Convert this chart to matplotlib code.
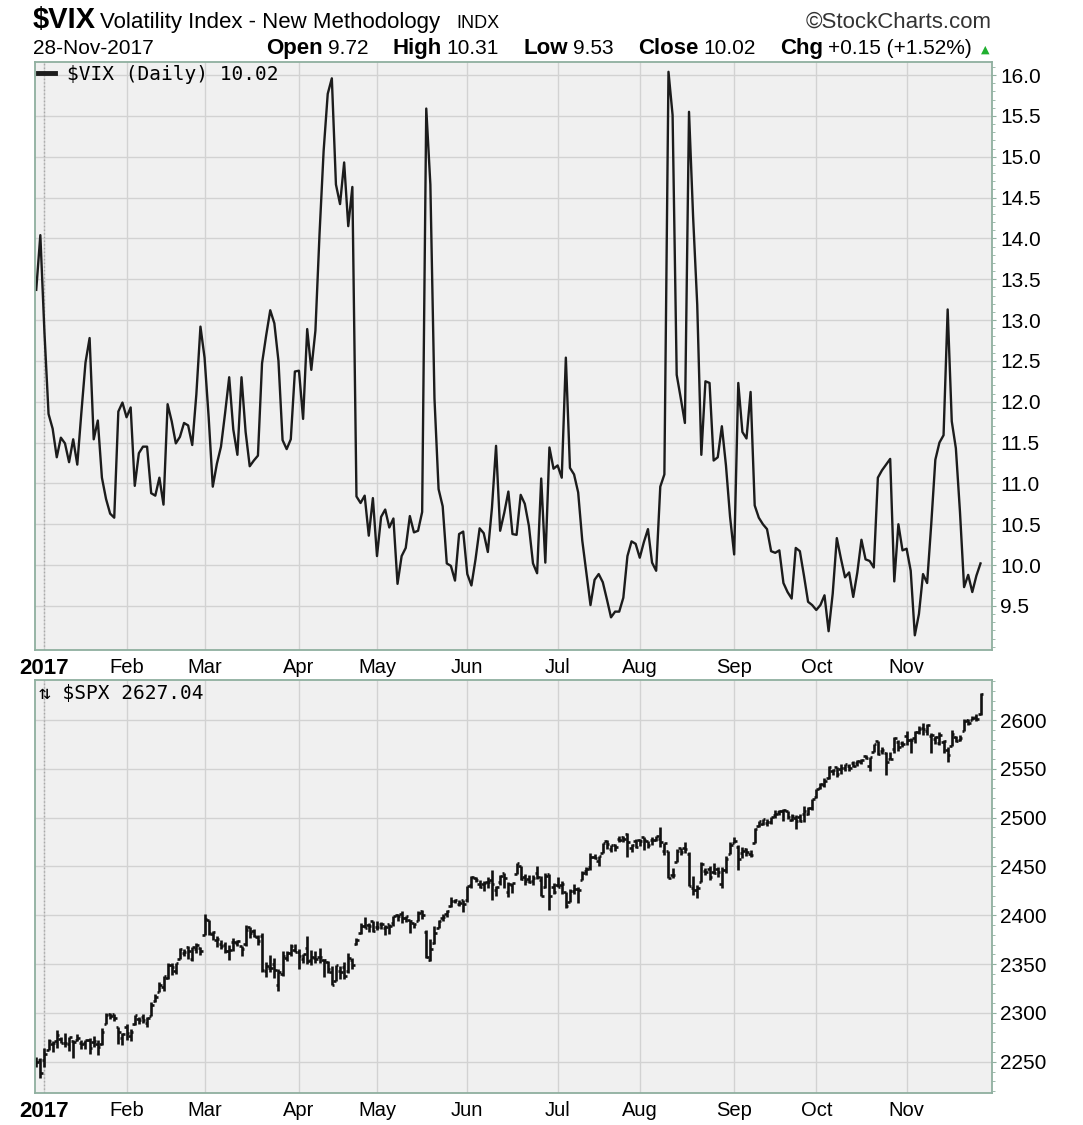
import numpy as np
import pandas as pd
import matplotlib
matplotlib.use('Agg')
import matplotlib.pyplot as plt
from matplotlib.ticker import MultipleLocator

# trading days shown: 29-Dec-2016 .. 28-Nov-2017
holidays = ['2017-01-02', '2017-01-16', '2017-02-20', '2017-04-14', '2017-05-29',
            '2017-07-04', '2017-09-04', '2017-11-23']
month_labels = ['2017', 'Feb', 'Mar', 'Apr', 'May', 'Jun', 'Jul', 'Aug', 'Sep', 'Oct', 'Nov']

vix_close = [
    13.37, 14.04,
    # Jan
    12.85, 11.85, 11.67, 11.32, 11.56, 11.49, 11.26, 11.54, 11.23, 11.87, 12.48, 12.78, 11.54, 11.77,
    11.07, 10.81, 10.63, 10.58, 11.88, 11.99,
    # Feb
    11.81, 11.93, 10.97, 11.37, 11.45, 11.45, 10.88, 10.85, 11.07, 10.74, 11.97, 11.76, 11.49, 11.57,
    11.74, 11.71, 11.47, 12.09, 12.92,
    # Mar
    12.54, 11.81, 10.96, 11.24, 11.45, 11.86, 12.30, 11.66, 11.35, 12.30, 11.63, 11.21, 11.28, 11.34,
    12.47, 12.81, 13.12, 12.96, 12.50, 11.53, 11.42, 11.54, 12.37,
    # Apr
    12.38, 11.79, 12.89, 12.39, 12.87, 14.05, 15.07, 15.77, 15.96, 14.66, 14.42, 14.93, 14.15, 14.63,
    10.84, 10.76, 10.85, 10.36, 10.82,
    # May
    10.11, 10.59, 10.68, 10.46, 10.57, 9.77, 10.11, 10.21, 10.60, 10.40, 10.42, 10.65, 15.59, 14.66,
    12.04, 10.93, 10.72, 10.02, 9.99, 9.81, 10.38, 10.41,
    # Jun
    9.89, 9.75, 10.07, 10.45, 10.39, 10.16, 10.70, 11.46, 10.42, 10.64, 10.90, 10.38, 10.37, 10.86,
    10.75, 10.48, 10.02, 9.90, 11.06, 10.03, 11.44, 11.18,
    # Jul
    11.22, 11.07, 12.54, 11.19, 11.11, 10.89, 10.30, 9.90, 9.51, 9.82, 9.89, 9.79, 9.58, 9.36,
    9.43, 9.43, 9.60, 10.11, 10.29, 10.26,
    # Aug
    10.09, 10.28, 10.44, 10.03, 9.93, 10.96, 11.11, 16.04, 15.51, 12.33, 12.04, 11.74, 15.55, 14.26,
    13.19, 11.35, 12.25, 12.23, 11.28, 11.32, 11.70, 11.22, 10.59,
    # Sep
    10.13, 12.23, 11.63, 11.55, 12.12, 10.73, 10.58, 10.50, 10.44, 10.17, 10.15, 10.18, 9.78, 9.67,
    9.59, 10.21, 10.17, 9.87, 9.55, 9.51,
    # Oct
    9.45, 9.51, 9.63, 9.19, 9.65, 10.33, 10.08, 9.85, 9.91, 9.61, 9.91, 10.31, 10.07, 10.05,
    9.97, 11.07, 11.16, 11.23, 11.30, 9.80, 10.50, 10.18,
    # Nov
    10.20, 9.93, 9.14, 9.40, 9.89, 9.78, 10.50, 11.29, 11.50, 11.59, 13.13, 11.76, 11.43, 10.65,
    9.73, 9.88, 9.67, 9.87, 10.02,
]

spx_open = [
    2249.5, 2251.6,
    2251.6, 2261.6, 2268.2, 2271.1, 2273.6, 2269.0, 2268.6, 2271.1, 2272.7, 2269.1, 2269.1, 2271.9, 2269.9, 2267.8, 2267.9, 2288.9, 2298.6, 2299.0, 2286.0, 2274.0,
    2285.6, 2276.7, 2288.5, 2294.3, 2295.9, 2289.6, 2296.7, 2312.3, 2321.7, 2326.1, 2335.6, 2349.6, 2343.0, 2354.9, 2361.1, 2367.5, 2355.7, 2365.2, 2366.1,
    2380.1, 2394.8, 2380.9, 2375.2, 2370.7, 2369.8, 2363.5, 2372.5, 2371.6, 2368.6, 2370.3, 2387.7, 2383.7, 2378.2, 2379.3, 2343.0, 2346.0, 2350.4, 2329.1, 2339.8, 2356.5, 2361.3, 2364.8,
    2362.3, 2354.8, 2366.6, 2353.8, 2356.6, 2357.2, 2353.9, 2352.2, 2342.0, 2332.6, 2342.5, 2346.8, 2342.7, 2354.7, 2370.3, 2381.5, 2389.0, 2389.7, 2393.7,
    2388.5, 2391.1, 2386.5, 2391.4, 2392.4, 2399.9, 2401.6, 2396.8, 2394.8, 2392.4, 2394.0, 2404.6, 2383.0, 2354.7, 2371.4, 2387.2, 2397.0, 2401.4, 2409.5, 2414.5, 2411.7, 2415.6,
    2415.7, 2431.3, 2437.8, 2431.9, 2432.0, 2434.3, 2436.4, 2425.9, 2434.2, 2443.8, 2424.1, 2431.2, 2442.6, 2450.7, 2439.3, 2437.4, 2434.7, 2443.3, 2436.3, 2428.7, 2442.4, 2429.2,
    2431.4, 2430.8, 2423.4, 2413.5, 2424.5, 2427.4, 2435.8, 2445.0, 2449.2, 2459.5, 2455.9, 2463.9, 2475.6, 2467.4, 2472.0, 2477.9, 2480.0, 2482.8, 2469.1, 2475.9,
    2477.1, 2480.4, 2476.0, 2476.9, 2477.1, 2478.4, 2465.4, 2465.4, 2441.0, 2455.0, 2468.7, 2468.6, 2463.0, 2427.6, 2425.5, 2433.8, 2444.9, 2447.9, 2444.7, 2447.4, 2431.9, 2446.1, 2462.7,
    2474.4, 2470.4, 2463.8, 2468.1, 2462.3, 2474.5, 2491.9, 2493.9, 2494.6, 2495.7, 2502.5, 2506.3, 2506.8, 2507.2, 2497.3, 2499.4, 2501.0, 2503.3, 2503.4, 2510.4,
    2521.2, 2530.3, 2533.5, 2540.9, 2547.4, 2551.4, 2550.0, 2550.6, 2552.9, 2555.7, 2555.6, 2557.2, 2562.9, 2553.4, 2567.6, 2578.1, 2568.7, 2566.5, 2560.1, 2570.3, 2577.8, 2576.0,
    2583.2, 2579.5, 2581.9, 2587.5, 2592.1, 2588.7, 2584.0, 2580.2, 2576.5, 2577.8, 2569.5, 2573.0, 2582.9, 2579.5, 2589.2, 2600.3, 2600.4, 2602.7, 2605.9,
]

spx_high = [
    2254.5, 2253.6,
    2263.9, 2272.8, 2271.5, 2282.1, 2275.5, 2279.3, 2275.5, 2271.8, 2278.7, 2272.1, 2272.0, 2274.3, 2276.0, 2271.8, 2284.6, 2299.6, 2300.4, 2299.0, 2286.0, 2279.1,
    2289.1, 2284.0, 2298.3, 2296.2, 2299.4, 2295.9, 2311.1, 2319.2, 2331.6, 2337.6, 2351.3, 2351.3, 2351.2, 2366.7, 2365.1, 2368.3, 2367.3, 2371.5, 2367.8,
    2401.0, 2394.8, 2383.9, 2378.8, 2375.1, 2373.1, 2369.1, 2376.9, 2374.4, 2368.6, 2390.0, 2388.1, 2385.7, 2379.6, 2381.9, 2351.8, 2358.9, 2356.2, 2344.9, 2363.8, 2363.4, 2370.4, 2370.4,
    2365.9, 2360.5, 2378.4, 2364.2, 2363.8, 2366.4, 2355.2, 2352.7, 2348.3, 2349.1, 2348.4, 2352.6, 2361.4, 2356.2, 2377.0, 2392.5, 2398.2, 2392.1, 2393.7,
    2394.5, 2392.9, 2389.8, 2391.4, 2399.3, 2401.4, 2403.9, 2399.7, 2395.7, 2392.4, 2404.1, 2405.8, 2384.9, 2375.7, 2389.1, 2395.5, 2400.9, 2405.6, 2418.7, 2416.7, 2415.3, 2416.0,
    2430.1, 2440.2, 2439.6, 2436.2, 2435.3, 2439.3, 2446.2, 2430.4, 2441.5, 2443.8, 2434.0, 2433.2, 2453.8, 2450.7, 2442.2, 2441.6, 2441.4, 2450.4, 2440.2, 2443.0, 2442.7, 2432.7,
    2439.2, 2434.9, 2424.3, 2426.9, 2432.0, 2429.3, 2445.8, 2449.3, 2463.5, 2462.8, 2460.9, 2473.8, 2477.6, 2472.5, 2473.1, 2481.2, 2481.7, 2484.0, 2473.5, 2478.0,
    2478.5, 2480.4, 2476.0, 2480.0, 2481.0, 2490.9, 2474.4, 2465.4, 2448.1, 2468.2, 2468.9, 2474.9, 2465.0, 2440.3, 2430.6, 2454.8, 2448.9, 2450.4, 2454.0, 2449.1, 2449.2, 2460.3, 2475.0,
    2480.4, 2472.0, 2469.6, 2468.6, 2467.1, 2489.0, 2496.8, 2498.4, 2498.4, 2500.2, 2508.3, 2507.8, 2508.9, 2507.2, 2503.5, 2502.5, 2503.5, 2511.8, 2510.8, 2519.4,
    2529.2, 2535.1, 2540.5, 2552.5, 2549.4, 2551.8, 2555.2, 2555.2, 2555.3, 2557.7, 2559.5, 2559.7, 2564.1, 2562.4, 2575.4, 2578.3, 2572.2, 2567.4, 2567.1, 2583.0, 2580.0, 2578.3,
    2588.4, 2581.1, 2588.4, 2593.4, 2597.0, 2595.5, 2586.5, 2583.8, 2587.7, 2579.7, 2572.8, 2590.1, 2584.0, 2584.6, 2601.2, 2600.9, 2604.2, 2606.4, 2627.7,
]

spx_low = [
    2244.6, 2233.6,
    2245.1, 2261.6, 2260.5, 2264.1, 2268.8, 2265.3, 2260.8, 2254.3, 2271.5, 2262.8, 2263.4, 2258.4, 2265.0, 2257.0, 2266.7, 2288.9, 2294.1, 2291.6, 2268.0, 2267.2,
    2272.4, 2271.7, 2287.9, 2288.6, 2290.2, 2285.4, 2296.6, 2311.1, 2321.4, 2322.2, 2334.8, 2338.9, 2339.6, 2354.9, 2358.3, 2355.1, 2352.9, 2361.9, 2359.0,
    2380.1, 2380.2, 2374.4, 2368.0, 2365.5, 2361.0, 2354.5, 2363.0, 2368.5, 2358.2, 2368.9, 2377.2, 2377.6, 2369.7, 2341.9, 2336.5, 2342.1, 2335.7, 2322.3, 2337.6, 2352.9, 2358.6, 2362.6,
    2344.7, 2350.7, 2350.5, 2348.9, 2350.7, 2351.5, 2337.3, 2341.2, 2329.0, 2332.5, 2334.5, 2335.1, 2340.9, 2344.5, 2369.2, 2381.2, 2386.8, 2382.7, 2382.4,
    2384.8, 2385.8, 2379.8, 2380.4, 2389.4, 2393.9, 2392.4, 2392.8, 2381.7, 2387.2, 2393.9, 2396.1, 2356.2, 2352.7, 2370.4, 2386.9, 2393.9, 2398.0, 2408.8, 2412.2, 2409.4, 2403.6,
    2413.5, 2427.7, 2434.3, 2428.1, 2424.8, 2427.9, 2415.7, 2420.0, 2431.3, 2428.3, 2418.5, 2422.9, 2441.8, 2436.6, 2430.7, 2433.3, 2431.1, 2437.0, 2419.4, 2428.0, 2405.7, 2421.7,
    2428.7, 2422.1, 2407.7, 2413.5, 2422.3, 2412.8, 2435.8, 2441.7, 2446.7, 2457.2, 2450.3, 2463.9, 2468.4, 2465.1, 2466.3, 2474.9, 2474.9, 2459.9, 2464.7, 2468.5,
    2471.1, 2466.5, 2468.9, 2472.1, 2475.9, 2470.3, 2462.1, 2437.8, 2437.9, 2455.0, 2461.6, 2463.9, 2430.0, 2420.7, 2417.4, 2433.7, 2441.4, 2436.2, 2442.2, 2439.0, 2428.2, 2443.8, 2462.7,
    2473.9, 2446.6, 2459.2, 2460.3, 2459.4, 2474.5, 2490.4, 2492.1, 2491.4, 2493.2, 2499.9, 2503.2, 2496.7, 2499.0, 2496.5, 2488.0, 2495.1, 2495.9, 2502.9, 2508.0,
    2520.4, 2528.9, 2531.8, 2540.0, 2543.8, 2541.6, 2544.9, 2548.0, 2548.3, 2552.1, 2552.6, 2554.7, 2559.7, 2547.9, 2567.6, 2564.3, 2565.6, 2544.0, 2559.8, 2565.9, 2568.3, 2572.2,
    2574.9, 2566.2, 2576.8, 2585.7, 2584.4, 2585.0, 2566.3, 2575.6, 2574.5, 2566.6, 2557.5, 2573.0, 2577.6, 2578.2, 2589.2, 2595.2, 2600.4, 2598.9, 2605.4,
]

spx_close = [
    2249.3, 2238.8,
    2257.8, 2270.8, 2269.0, 2277.0, 2268.9, 2268.9, 2275.3, 2270.4, 2274.6, 2267.9, 2271.9, 2263.7, 2271.3, 2265.2, 2280.1, 2298.4, 2296.7, 2294.7, 2280.9, 2278.9,
    2279.6, 2280.9, 2297.4, 2292.6, 2293.1, 2294.7, 2307.9, 2316.1, 2328.3, 2337.6, 2349.3, 2347.2, 2351.2, 2365.4, 2362.8, 2363.8, 2367.3, 2369.8, 2363.6,
    2396.0, 2381.9, 2383.1, 2375.3, 2368.4, 2363.0, 2364.9, 2372.6, 2373.5, 2365.5, 2385.3, 2381.4, 2378.3, 2373.5, 2344.0, 2348.5, 2346.0, 2344.0, 2341.6, 2358.6, 2361.1, 2368.1, 2362.7,
    2358.8, 2360.2, 2353.0, 2357.5, 2355.5, 2357.2, 2353.8, 2344.9, 2329.0, 2349.0, 2342.2, 2338.2, 2355.8, 2348.7, 2374.2, 2388.6, 2387.5, 2388.8, 2384.2,
    2388.3, 2391.2, 2388.1, 2389.5, 2399.3, 2399.4, 2396.9, 2399.6, 2394.4, 2390.9, 2402.3, 2400.7, 2357.0, 2365.7, 2381.7, 2394.0, 2398.4, 2404.4, 2415.1, 2415.8, 2412.9, 2411.8,
    2430.1, 2439.1, 2436.1, 2429.3, 2433.1, 2433.8, 2431.8, 2429.4, 2440.4, 2437.9, 2432.5, 2433.2, 2453.5, 2437.0, 2435.6, 2434.5, 2438.3, 2439.1, 2419.4, 2440.7, 2419.7, 2423.4,
    2429.0, 2432.5, 2409.8, 2425.2, 2427.4, 2425.5, 2443.3, 2447.8, 2459.3, 2459.1, 2460.6, 2473.8, 2473.5, 2472.5, 2469.9, 2477.1, 2477.8, 2475.4, 2472.1, 2470.3,
    2476.4, 2477.6, 2472.2, 2476.8, 2480.9, 2474.9, 2474.0, 2438.2, 2441.3, 2465.8, 2464.6, 2468.1, 2430.0, 2425.6, 2428.4, 2452.5, 2444.0, 2439.0, 2443.1, 2444.2, 2446.3, 2457.6, 2471.7,
    2476.6, 2457.9, 2465.5, 2465.1, 2461.4, 2488.1, 2496.5, 2498.4, 2495.6, 2500.2, 2503.9, 2506.7, 2508.2, 2500.6, 2502.2, 2496.7, 2496.8, 2507.0, 2510.1, 2519.4,
    2529.1, 2534.6, 2537.7, 2552.1, 2549.3, 2544.7, 2550.6, 2555.2, 2550.9, 2553.2, 2557.6, 2559.4, 2561.3, 2562.1, 2575.2, 2565.0, 2569.1, 2557.2, 2560.4, 2581.1, 2572.8, 2575.3,
    2579.4, 2579.9, 2587.8, 2591.1, 2590.6, 2594.4, 2584.6, 2582.3, 2584.8, 2578.9, 2564.6, 2585.6, 2578.9, 2582.1, 2599.0, 2597.1, 2602.4, 2601.4, 2627.0,
]

dates = pd.bdate_range('2016-12-29', '2017-11-28', freq='C', holidays=holidays)
x = np.arange(len(dates))
month_starts = [i for i in range(1, len(dates)) if dates[i].month != dates[i - 1].month]

W, H = 1083, 1125
BG = '#F0F0F0'
GRID = '#D2D2D2'
EDGE = '#8FAF9F'
plt.rcParams['font.family'] = ['Liberation Sans', 'DejaVu Sans']

fig = plt.figure(figsize=(W / 100, H / 100), dpi=100)
fig.patch.set_facecolor('white')
ax1 = fig.add_axes([35 / W, 1 - 650 / H, 957 / W, 588 / H])
ax2 = fig.add_axes([35 / W, 1 - 1093 / H, 957 / W, 413 / H])

for ax in (ax1, ax2):
    ax.set_facecolor(BG)
    for sp in ax.spines.values():
        sp.set_color(EDGE)
        sp.set_linewidth(1.3)
    ax.set_axisbelow(True)
    ax.grid(True, which='major', color=GRID, lw=1.0)
    ax.set_xlim(-0.3, 232.8)
    ax.set_xticks(month_starts)
    ax.set_xticklabels(month_labels, fontsize=14.5)
    ax.get_xticklabels()[0].set_fontweight('bold')
    ax.get_xticklabels()[0].set_fontsize(16)
    ax.tick_params(axis='x', length=0, pad=6)
    ax.yaxis.tick_right()
    ax.tick_params(axis='y', which='both', direction='out', color=EDGE, left=False, right=True)
    ax.tick_params(axis='y', which='major', length=3, pad=3, labelsize=15)
    ax.tick_params(axis='y', which='minor', length=2.5)
    ax.axvline(month_starts[0], color='#A8A8A8', ls=':', lw=1.0, zorder=1)

# VIX line
vix_line, = ax1.plot(x, vix_close, color='#1c1c1c', lw=1.7)
ax1.set_ylim(8.96, 16.16)
ax1.set_yticks(np.arange(9.5, 16.01, 0.5))
ax1.set_yticklabels(['%.1f' % v for v in np.arange(9.5, 16.01, 0.5)])
ax1.yaxis.set_minor_locator(MultipleLocator(0.1))
leg = ax1.legend([vix_line], [r'\$VIX (Daily) 10.02'], loc='upper left', frameon=False,
                 handlelength=0.9, handletextpad=0.6, borderaxespad=0.1, borderpad=0.05,
                 prop={'family': 'DejaVu Sans Mono', 'size': 14})
leg.get_lines()[0].set_linewidth(3.5)

# SPX OHLC bars
xs = np.asarray(x, dtype=float)
ax2.vlines(xs, spx_low, spx_high, color='#111111', lw=1.9)
ax2.hlines(spx_open, xs - 0.6, xs, color='#111111', lw=1.9)
ax2.hlines(spx_close, xs, xs + 0.6, color='#111111', lw=1.9)
ax2.set_ylim(2218, 2641)
ax2.set_yticks(np.arange(2250, 2601, 50))
ax2.yaxis.set_minor_locator(MultipleLocator(10))
ax2.text(0.004, 0.99, '\u21c5 \\$SPX 2627.04', transform=ax2.transAxes, va='top', ha='left',
         fontsize=14, family='DejaVu Sans Mono')


# header
def fx(px):
    return px / W


def fy(py):
    return 1 - py / H


def put(px, py, s, size, weight='normal', **kw):
    return fig.text(fx(px), fy(py), s, fontsize=size, fontweight=weight, va='baseline', **kw)


put(33, 28, r'\$VIX', 21, 'bold')
put(100, 28, 'Volatility Index - New Methodology', 16)
put(456, 28, 'INDX', 13)
put(992, 28, '\u00a9StockCharts.com', 16, ha='right', color='#333333')
put(33, 54, '28-Nov-2017', 15)

# Open/High/Low/Close/Chg row: label + value pairs spread over 266..972 px
header_txt = ['Open', '9.72', 'High', '10.31', 'Low', '9.53', 'Close', '10.02', 'Chg',
              '+0.15 (+1.52%)']
renderer = fig.canvas.get_renderer()
texts = [put(266, 54, s, 16 if i % 2 == 0 else 15, 'bold' if i % 2 == 0 else 'normal')
         for i, s in enumerate(header_txt)]
widths = [t.get_window_extent(renderer).width for t in texts]
small = 5
big = (972 - 266 - sum(widths) - small * 5) / 4
cur = 266
for i, (t, w) in enumerate(zip(texts, widths)):
    t.set_x(fx(cur))
    cur += w + (small if i % 2 == 0 else big)
put(985, 53, '\u25b2', 8, color='#1FAF2F', ha='center', family='DejaVu Sans')

fig.savefig('out.png', dpi=100)
